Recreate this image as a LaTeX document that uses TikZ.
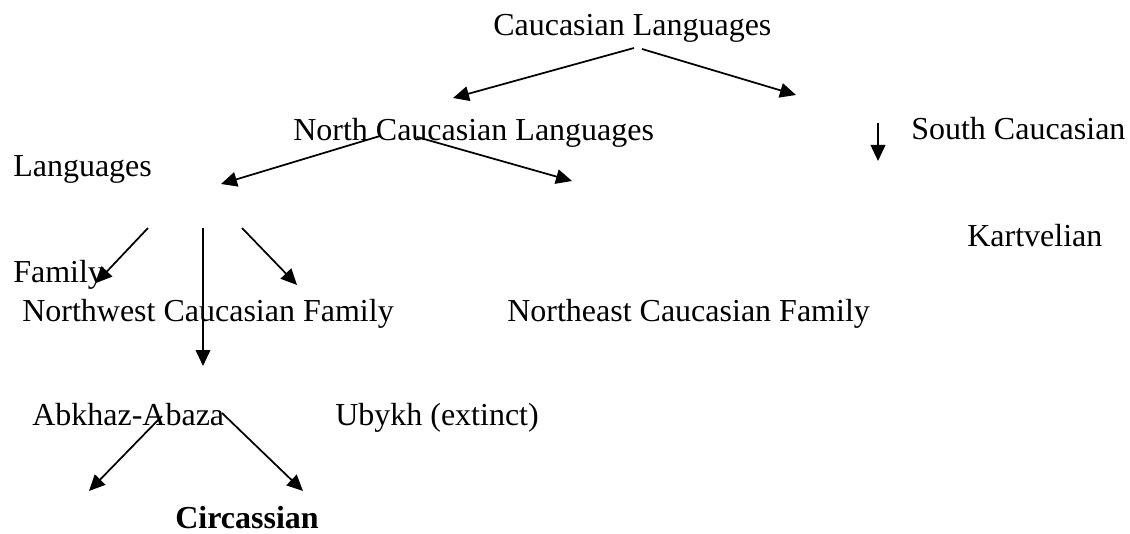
\documentclass[tikz,border=0pt]{standalone}
\usepackage{fontspec}
\setmainfont{Liberation Serif}
\usetikzlibrary{arrows.meta}
\tikzset{
  txt/.style={anchor=base west, inner sep=0pt, font=\fontsize{24}{28}\selectfont},
  arr/.style={-{Triangle[length=12pt,width=11pt]}, line width=1.3pt}
}
\begin{document}
\begin{tikzpicture}[x=0.75pt,y=-0.75pt]
\useasboundingbox (0,0) rectangle (1130,534);
% texts
\node[txt] (cl) at (493,36) {Caucasian Languages};
\node[txt] (ncl) at (293,141) {North Caucasian Languages};
\node[txt] (sc) at (911,140) {South Caucasian};
\node[txt] (lang) at (13,177) {Languages};
\node[txt] (kart) at (967,247) {Kartvelian};
\node[txt] (fam) at (13,283) {Family};
\node[txt] (nwc) at (22,321) {Northwest Caucasian Family};
\node[txt] (nec) at (507,321) {Northeast Caucasian Family};
\node[txt] (abk) at (32,425) {Abkhaz-Abaza};
\node[txt] (uby) at (335,425) {Ubykh (extinct)};
\node[txt, font=\fontsize{24}{28}\selectfont\bfseries] (cir) at (175,528) {Circassian};
% connector end points
\coordinate (a1s) at (634,48);  \coordinate (a1e) at (453,98);
\coordinate (a2s) at (642,49);  \coordinate (a2e) at (796,95);
\coordinate (a3s) at (878,123); \coordinate (a3e) at (878,161);
\coordinate (a4s) at (380,136); \coordinate (a4e) at (221,184);
\coordinate (a5s) at (417,137); \coordinate (a5e) at (572,181);
\coordinate (a6s) at (148,228); \coordinate (a6e) at (96,283);
\coordinate (a7s) at (203,228); \coordinate (a7e) at (203,366);
\coordinate (a8s) at (242,228); \coordinate (a8e) at (297,285);
\coordinate (a9s) at (162,416); \coordinate (a9e) at (89,491);
\coordinate (a10s) at (222,413); \coordinate (a10e) at (303,491);
% connectors
\draw[arr] (a1s) -- (a1e);
\draw[arr] (a2s) -- (a2e);
\draw[arr] (a3s) -- (a3e);
\draw[arr] (a4s) -- (a4e);
\draw[arr] (a5s) -- (a5e);
\draw[arr] (a6s) -- (a6e);
\draw[arr] (a7s) -- (a7e);
\draw[arr] (a8s) -- (a8e);
\draw[arr] (a9s) -- (a9e);
\draw[arr] (a10s) -- (a10e);
\end{tikzpicture}
\end{document}
